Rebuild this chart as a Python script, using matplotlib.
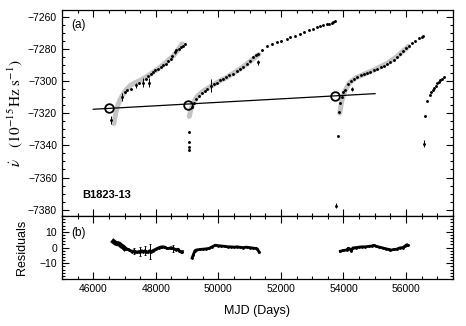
import matplotlib
matplotlib.use("Agg")
import matplotlib.pyplot as plt
from matplotlib.ticker import MultipleLocator

plt.rcParams['font.family'] = ['Liberation Sans', 'DejaVu Sans']
plt.rcParams['mathtext.fontset'] = 'stix'

# ---------------- top panel data ----------------
seg1_x = [47020, 47086, 47192, 47450, 47671, 47760, 47831, 47910, 47990, 48070, 48150,
          48230, 48310, 48390, 48470, 48530, 48660, 48735, 48800, 48870, 48949]
seg1_y = [-7307, -7305.8, -7304.8, -7301, -7298.5, -7297, -7295.5, -7294.5, -7293.5, -7292.5,
          -7291.4, -7290.3, -7289.3, -7287.7, -7286.2, -7284.5, -7281, -7280, -7279, -7278, -7277.3]

seg2_x = [49067, 49068, 49066, 49066, 49170, 49230, 49300, 49390, 49480, 49560, 49650, 49850,
          49950, 50050, 50150, 50250, 50350, 50483, 50600, 50700, 50802, 50900, 51000, 51121,
          51200, 51281, 51400, 51547, 51700, 51866, 52000, 52186, 52300, 52450, 52614, 52750,
          52900, 53039, 53150, 53253, 53350, 53464, 53550, 53620, 53680, 53732]
seg2_y = [-7331.7, -7338, -7341, -7343, -7316, -7313.5, -7311, -7309.5, -7307.5, -7306, -7305,
          -7302, -7301, -7299.5, -7298.5, -7297.5, -7296.5, -7295.5, -7293.8, -7292.6, -7291.4,
          -7289.5, -7287.5, -7285.2, -7284, -7283, -7280.5, -7278, -7276.8, -7275.9, -7275,
          -7273.8, -7272.8, -7271.8, -7270.7, -7269.6, -7268.6, -7267.6, -7266.5, -7265.6,
          -7265, -7264.5, -7264.8, -7264.3, -7263.5, -7262.5]

seg3_x = [53815, 53869, 53901, 53943, 54000, 54061, 54150, 54250, 54350, 54435, 54550, 54650,
          54750, 54850, 54966, 55080, 55200, 55300, 55393, 55500, 55600, 55713, 55800, 55900,
          56000, 56100, 56200, 56300, 56400, 56500, 56553]
seg3_y = [-7334.2, -7319.3, -7314, -7310, -7307, -7305.5, -7302, -7300, -7298.5, -7297.6,
          -7296.5, -7295.5, -7295, -7294.5, -7293.5, -7292.5, -7291.5, -7290.5, -7289.3, -7288,
          -7286.8, -7285.2, -7283.5, -7281.5, -7279.5, -7278, -7276.5, -7275, -7273.5, -7272.5,
          -7271.8]

seg4_x = [56617, 56671, 56755, 56800, 56850, 56900, 56950, 57000, 57050, 57100, 57150, 57202]
seg4_y = [-7322, -7312.7, -7309, -7307, -7305.5, -7304.5, -7303, -7301.5, -7300.5, -7299.5,
          -7298.5, -7297.6]

# points with error bars
eb_x = [46575, 46927, 47351, 47598, 47789, 48598, 49760, 51281, 53750, 54275, 56563]
eb_y = [-7324.5, -7310, -7302.7, -7301, -7301, -7282, -7303, -7288.3, -7377.5, -7304.8, -7339]
eb_e = [2.5, 2.5, 1.5, 3, 3, 1.5, 4, 1.5, 1.5, 1.2, 2]

# model curves (grey)
mod1_x = [46658, 46700, 46766, 46850, 46927, 47050, 47192, 47350, 47511, 47776, 48150, 48575, 48843]
mod1_y = [-7326.5, -7322, -7316.2, -7312, -7309, -7305.5, -7302.7, -7301, -7299.6, -7296.5,
          -7291.4, -7284.2, -7277]
mod2_x = [49070, 49120, 49200, 49330, 49500, 49750, 50000, 50300, 50700, 51000, 51300]
mod2_y = [-7322, -7318, -7313.5, -7309.5, -7306.5, -7303.5, -7300.5, -7297.5, -7292.5,
          -7288, -7283.5]
mod3_x = [53880, 53950, 54050, 54200, 54400, 54700, 55000, 55400, 55700, 55900, 56080]
mod3_y = [-7320, -7312, -7306, -7301, -7298, -7295.5, -7293, -7289, -7285, -7281.5, -7278.5]

# linear trend and glitch epochs
trend_x = [46000, 55010]
trend_y = [-7317.6, -7307.9]
glitch_x = [46507, 49014, 53734]
glitch_y = [-7317.0, -7315.2, -7309.5]

# ---------------- residuals ----------------
res1_x = [46650, 46700, 46750, 46800, 46850, 46900, 46950, 47000, 47050, 47100, 47150, 47200,
          47250, 47300, 47350, 47400, 47450, 47500, 47550, 47600, 47650, 47700, 47750, 47800,
          47850, 47900, 47950, 48000, 48050, 48100, 48150, 48200, 48250, 48300, 48350, 48400,
          48450, 48500, 48550, 48600, 48650, 48700, 48750, 48800, 48850]
res1_y = [3.8, 3.0, 2.5, 2.5, 2.0, 1.0, 0.5, -0.5, -1.0, -1.0, -1.5, -2.0, -2.5, -2.0, -2.5,
          -3.0, -2.5, -2.5, -2.0, -2.5, -2.0, -2.5, -3.0, -2.0, -2.5, -2.0, -1.5, -1.0, -0.5,
          0.0, 0.3, 0.5, 0.5, 0.2, -0.5, -0.5, -0.3, 0.0, -0.5, -1.0, -1.5, -1.0, -2.0, -2.5, -2.5]
res1_eb_x = [47300, 47500, 47650, 47800, 48550]
res1_eb_y = [-2.0, -2.5, -2.0, -2.5, -0.5]
res1_eb_e = [2.0, 3.0, 3.0, 4.5, 2.0]

res2_x = [49160, 49200, 49250, 49300, 49400, 49500, 49600, 49700, 49800, 49900, 50000, 50100,
          50200, 50300, 50400, 50500, 50600, 50700, 50800, 50900, 51000, 51100, 51200, 51250, 51300]
res2_y = [-6.5, -4.5, -2.0, -1.5, -1.2, -1.0, -0.8, -0.5, 0.5, 1.5, 1.2, 1.0, 0.8, 0.5, 0.5,
          0.3, 0.5, 0.2, 0.0, 0.3, 0.0, -0.3, -0.5, -1.0, -2.8]

res3_x = [53900, 54000, 54100, 54150, 54200, 54250, 54300, 54400, 54500, 54600, 54700, 54800,
          54900, 54965, 55050, 55150, 55250, 55350, 55450, 55500, 55600, 55700, 55800, 55900,
          55970, 56030, 56060]
res3_y = [-2.3, -1.8, -1.5, -0.5, -0.8, -2.0, -0.2, 0.0, 0.3, 0.5, 0.5, 0.8, 1.0, 1.5, 0.8,
          0.3, -0.2, -0.7, -1.2, -1.7, -1.2, -1.0, -0.2, 0.0, 1.0, 1.9, 1.5]

xticks = [46000, 48000, 50000, 52000, 54000, 56000]

fig = plt.figure(figsize=(4.66, 3.26), dpi=100)
ax1 = fig.add_axes([0.133, 0.337, 0.839, 0.632])
ax2 = fig.add_axes([0.133, 0.144, 0.839, 0.193], sharex=ax1)

grey = '#c4c4c4'
for mx, my in [(mod1_x, mod1_y), (mod2_x, mod2_y), (mod3_x, mod3_y)]:
    ax1.plot(mx, my, color=grey, lw=3.6, solid_capstyle='round', zorder=1)
ax1.plot(trend_x, trend_y, color='black', lw=0.9, zorder=2)
for sx, sy in [(seg1_x, seg1_y), (seg2_x, seg2_y), (seg3_x, seg3_y), (seg4_x, seg4_y)]:
    ax1.plot(sx, sy, 'o', color='black', ms=2.1, mew=0, zorder=3)
ax1.errorbar(eb_x, eb_y, yerr=eb_e, fmt='o', color='black', ms=2.1, mew=0, elinewidth=0.7,
             capsize=1.2, capthick=0.7, zorder=3)
ax1.plot(glitch_x, glitch_y, 'o', ms=6.2, mfc='none', mec='black', mew=1.3, zorder=4)

ax1.set_ylim(-7384, -7256)
ax1.set_xlim(45000, 57500)
ax1.yaxis.set_major_locator(MultipleLocator(20))
ax1.yaxis.set_minor_locator(MultipleLocator(5))
ax1.text(45300, -7265, '(a)', fontsize=8.5, va='center')
ax1.text(45650, -7371, 'B1823-13', fontsize=8, fontweight='bold', va='center')
ax1.set_ylabel(r'$\dot{\nu}$   $(10^{-15}\,\mathrm{Hz\;s^{-1}})$', fontsize=11, labelpad=2)
plt.setp(ax1.get_xticklabels(), visible=False)

# residuals
for rx, ry in [(res1_x, res1_y), (res2_x, res2_y), (res3_x, res3_y)]:
    ax2.plot(rx, ry, '-', color='black', lw=2.0, zorder=2)
    ax2.plot(rx, ry, 'o', color='black', ms=2.0, mew=0, zorder=3)
ax2.plot(res1_x[:8], res1_y[:8], '-', color='black', lw=3.5, zorder=2)
ax2.errorbar(res1_eb_x, res1_eb_y, yerr=res1_eb_e, fmt='none', ecolor='black', elinewidth=0.7,
             capsize=0.8, capthick=0.6)
ax2.set_ylim(-20, 20)
ax2.set_yticks([-10, 0, 10])
ax2.yaxis.set_minor_locator(MultipleLocator(2))
ax2.set_xticks(xticks)
ax2.set_xticklabels([str(t) for t in xticks])
ax2.xaxis.set_minor_locator(MultipleLocator(500))
ax2.text(45300, 9.5, '(b)', fontsize=8.5, va='center')
ax2.set_ylabel('Residuals', fontsize=9, labelpad=8)
ax2.set_xlabel('MJD (Days)', fontsize=9, labelpad=8)

for ax in (ax1, ax2):
    ax.tick_params(which='both', direction='in', top=True, right=True, labelsize=7.5, width=0.8)
    ax.tick_params(which='major', length=5)
    ax.tick_params(which='minor', length=2.5)
    for s in ax.spines.values():
        s.set_linewidth(0.9)

fig.savefig('out.png', dpi=100)
